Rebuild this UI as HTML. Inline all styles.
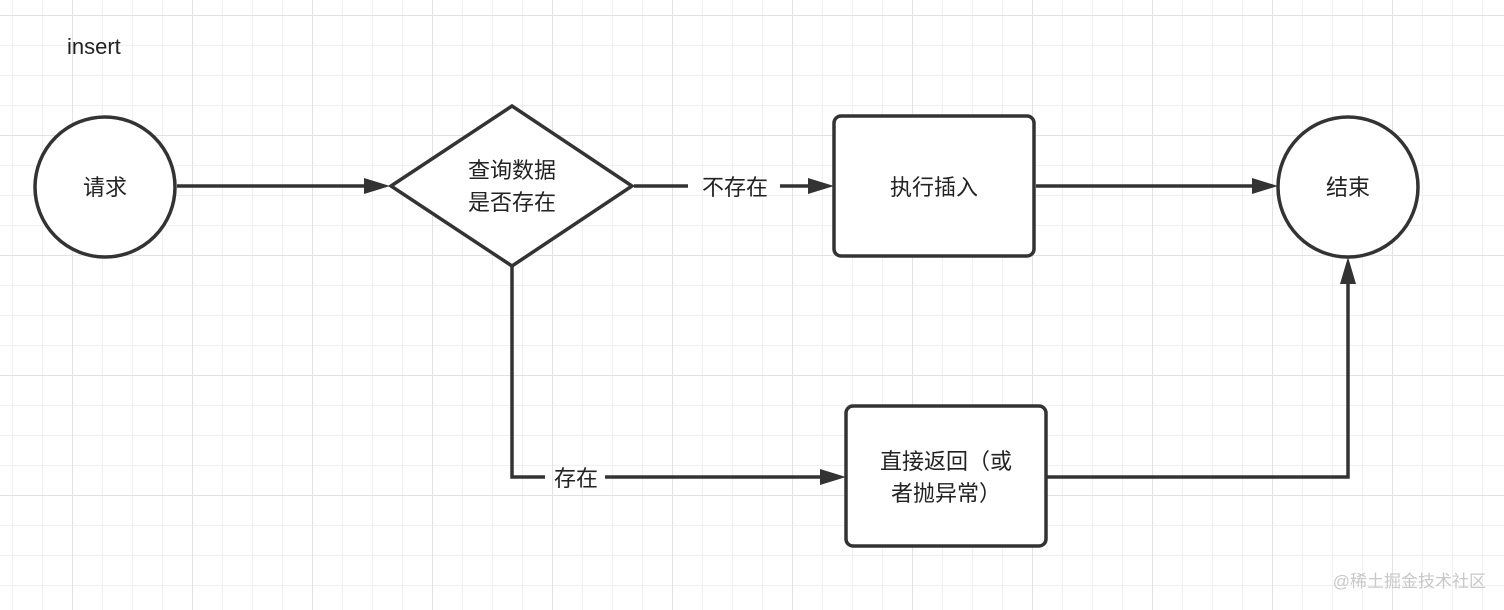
<!DOCTYPE html>
<html><head><meta charset="utf-8"><style>
body{margin:0;width:1504px;height:610px;overflow:hidden;background:#fff}
svg{display:block}
text{font-family:"Liberation Sans","Noto Sans CJK SC",sans-serif;fill:#222}
</style></head><body>
<svg width="1504" height="610" xmlns="http://www.w3.org/2000/svg">
<defs>
<pattern id="g" x="12" y="15" width="30" height="30" patternUnits="userSpaceOnUse">
<path d="M0 0H30M0 0V30" stroke="#ececec" stroke-width="1.5" fill="none"/>
</pattern>
<pattern id="G" x="72" y="15" width="120" height="120" patternUnits="userSpaceOnUse">
<path d="M0 0H120M0 0V120" stroke="#e2e2e2" stroke-width="2" fill="none"/>
</pattern>
</defs>
<rect width="1504" height="610" fill="url(#g)"/>
<rect width="1504" height="610" fill="url(#G)"/>
<text x="67" y="54" font-size="22">insert</text>
<g stroke="#333" stroke-width="3.5" fill="#fff">
<circle cx="105" cy="187" r="70"/>
<polygon points="391,186 512,106 632,186 512,266"/>
<rect x="834" y="116" width="200" height="140" rx="7"/>
<circle cx="1348" cy="187" r="70"/>
<rect x="846" y="406" width="200" height="140" rx="7"/>
</g>
<g stroke="#333" stroke-width="3.5" fill="none">
<path d="M177 186H368"/>
<path d="M634 186H688M780 186H810"/>
<path d="M512 266V477H545M605 477H822"/>
<path d="M1046 477H1348V282"/>
<path d="M1036 186H1254"/>
</g>
<g fill="#333">
<polygon points="390,186 364,178 364,194"/>
<polygon points="834,186 808,178 808,194"/>
<polygon points="846,477 820,469 820,485"/>
<polygon points="1278,186 1252,178 1252,194"/>
<polygon points="1348,257 1340,284 1356,284"/>
</g>
<g font-size="22" text-anchor="middle">
<text x="105" y="195">请求</text>
<text x="512" y="178">查询数据</text>
<text x="512" y="210">是否存在</text>
<text x="735" y="195">不存在</text>
<text x="934" y="195">执行插入</text>
<text x="1348" y="195">结束</text>
<text x="576" y="486">存在</text>
<text x="946" y="469">直接返回（或</text>
<text x="946" y="501">者抛异常）</text>
</g>
<text x="1486" y="587" font-size="17" text-anchor="end" style="fill:#c8c8c8">@稀土掘金技术社区</text>
</svg>
</body></html>
